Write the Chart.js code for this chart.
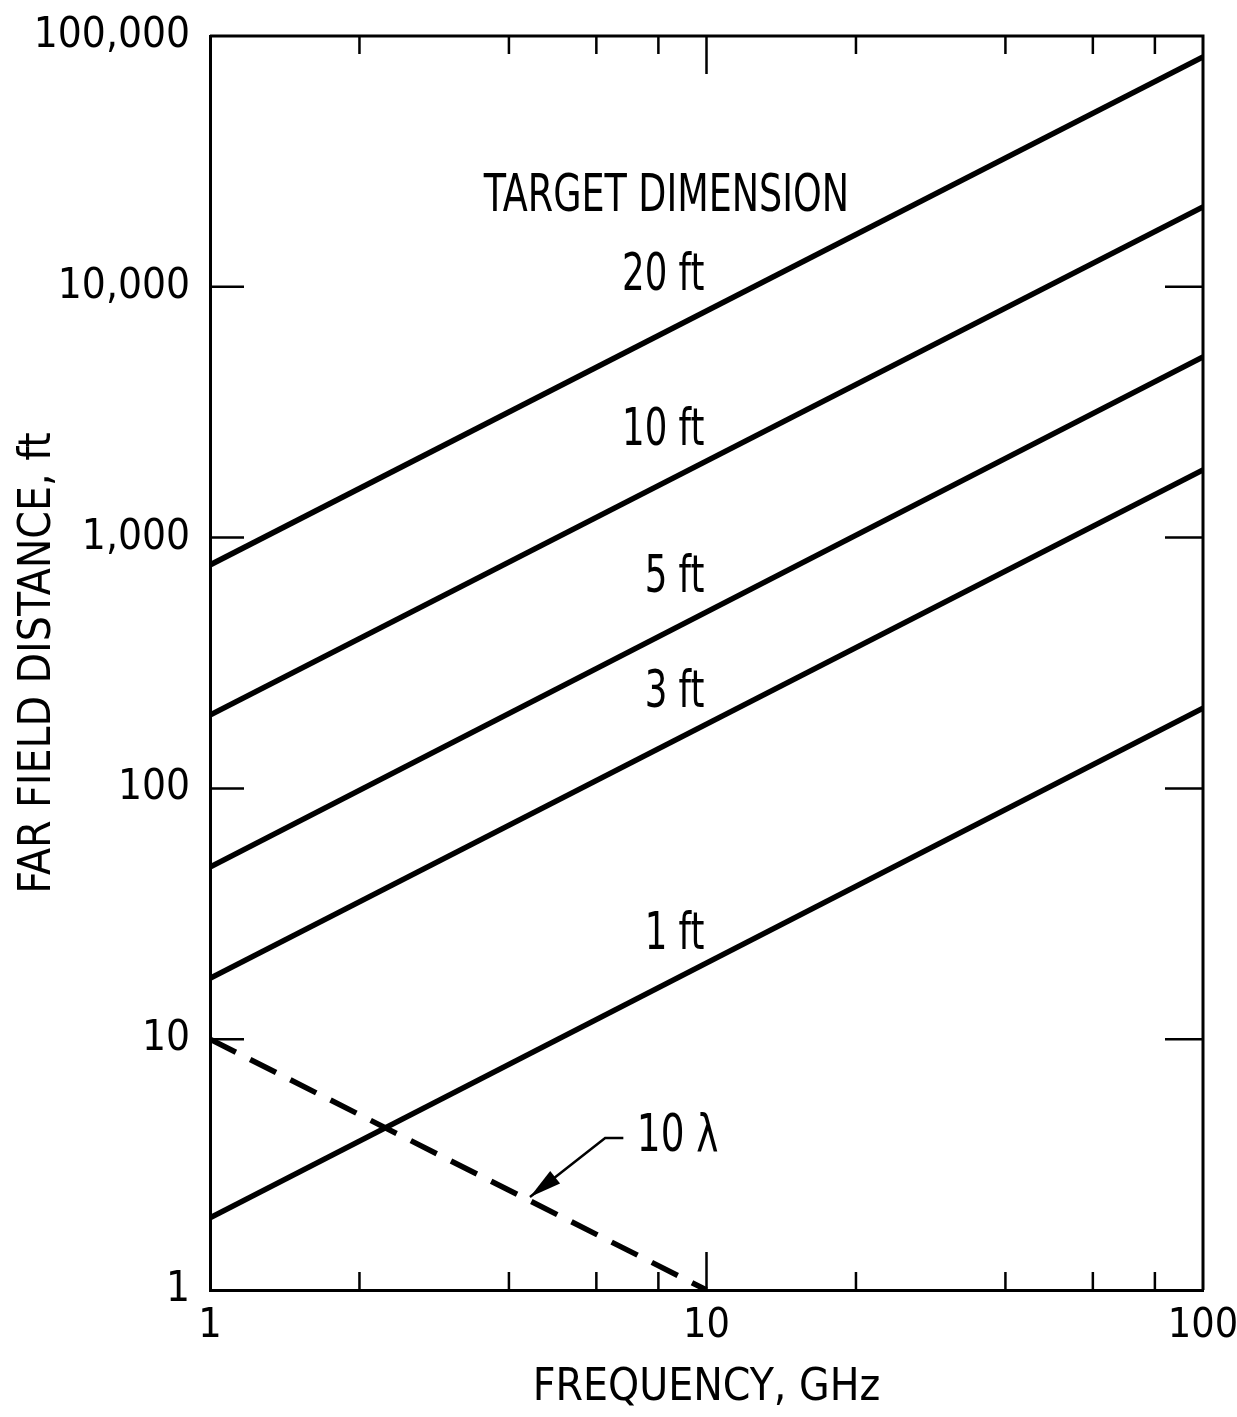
<!DOCTYPE html>
<html>
<head>
<meta charset="utf-8">
<script src="https://cdn.jsdelivr.net/npm/chart.js@4.4.1/dist/chart.umd.min.js"></script>
<style>
  html, body { margin: 0; padding: 0; background: #fff; }
  #wrap { width: 1237px; height: 1417px; position: relative; }
</style>
</head>
<body>
<div id="wrap"><canvas id="farField"></canvas></div>
<script>
// frequency end points, GHz
const freqs = [1, 100];
// far field distance (ft) read at 1 GHz and 100 GHz for each target size
const dim20ft = [778, 82500];
const dim10ft = [196, 20800];
const dim5ft = [48.6, 5250];
const dim3ft = [17.5, 1860];
const dim1ft = [1.94, 209];
// 10 lambda line, from 1 GHz to 10 GHz
const lambdaFreqs = [1, 10];
const tenLambda = [10, 1];

const xTickLabels = [1, 10, 100];
const xMinorTicks = [2, 4, 6, 8, 20, 40, 60, 80];
const yTickLabels = [1, 10, 100, 1000, 10000, 100000];

// label text and anchor in data units (GHz, ft)
const curveLabels = [
  { text: 'TARGET DIMENSION', x: 8.3, y: 22800, align: 'center', sx: 0.78 },
  { text: '20 ft', x: 9.9, y: 11000, align: 'right', sx: 0.76 },
  { text: '10 ft', x: 9.9, y: 2640, align: 'right', sx: 0.76 },
  { text: '5 ft', x: 9.9, y: 684, align: 'right', sx: 0.76 },
  { text: '3 ft', x: 9.9, y: 240, align: 'right', sx: 0.76 },
  { text: '1 ft', x: 9.9, y: 26, align: 'right', sx: 0.76 },
  { text: '10 \u03bb', x: 7.24, y: 4.07, align: 'left', sx: 0.8 }
];
// leader from the 10 lambda label to the dashed line
const arrowPath = [[6.8, 4.04], [6.25, 4.04], [4.41, 2.35]];

const FONT = "'Liberation Sans Narrow', 'DejaVu Sans Condensed', 'Liberation Sans', sans-serif";

function toPts(xs, ys) {
  return xs.map((x, i) => ({ x: x, y: ys[i] }));
}

function solid(label, ys) {
  return {
    label: label,
    data: toPts(freqs, ys),
    borderColor: '#000',
    borderWidth: 5.5,
    pointRadius: 0,
    showLine: true,
    fill: false
  };
}

const frameAndLabels = {
  id: 'frameAndLabels',
  afterDatasetsDraw(chart) {
    const ctx = chart.ctx;
    const a = chart.chartArea;
    const xs = chart.scales.x;
    const ys = chart.scales.y;
    ctx.save();
    ctx.strokeStyle = '#000';
    ctx.lineWidth = 3;
    // top and right sides of the frame
    ctx.beginPath();
    ctx.moveTo(a.left, a.top);
    ctx.lineTo(a.right, a.top);
    ctx.lineTo(a.right, a.bottom);
    ctx.stroke();

    // inward tick marks on top and bottom
    ctx.lineWidth = 2.5;
    const xt = xMinorTicks.map(v => [v, 18]).concat([[10, 38]]);
    xt.forEach(([v, len]) => {
      const px = xs.getPixelForValue(v);
      ctx.beginPath();
      ctx.moveTo(px, a.bottom);
      ctx.lineTo(px, a.bottom - len);
      ctx.moveTo(px, a.top);
      ctx.lineTo(px, a.top + len);
      ctx.stroke();
    });
    // decade ticks on left and right
    yTickLabels.slice(1, -1).forEach(v => {
      const py = ys.getPixelForValue(v);
      ctx.beginPath();
      ctx.moveTo(a.left, py);
      ctx.lineTo(a.left + 34, py);
      ctx.moveTo(a.right, py);
      ctx.lineTo(a.right - 38, py);
      ctx.stroke();
    });

    // curve labels
    ctx.fillStyle = '#000';
    ctx.textBaseline = 'middle';
    ctx.font = '52px ' + FONT;
    curveLabels.forEach(l => {
      const px = xs.getPixelForValue(l.x);
      const py = ys.getPixelForValue(l.y);
      ctx.save();
      ctx.translate(px, py);
      ctx.scale(l.sx, 1);
      ctx.textAlign = l.align;
      ctx.fillText(l.text, 0, 0);
      ctx.restore();
    });

    // arrow to the dashed line
    const pts = arrowPath.map(p => [xs.getPixelForValue(p[0]), ys.getPixelForValue(p[1])]);
    ctx.lineWidth = 2.5;
    ctx.beginPath();
    ctx.moveTo(pts[0][0], pts[0][1]);
    pts.slice(1).forEach(p => ctx.lineTo(p[0], p[1]));
    ctx.stroke();
    const tip = pts[pts.length - 1];
    const prev = pts[pts.length - 2];
    const ang = Math.atan2(tip[1] - prev[1], tip[0] - prev[0]);
    const hl = 32, hw = 8;
    ctx.beginPath();
    ctx.moveTo(tip[0], tip[1]);
    ctx.lineTo(tip[0] - hl * Math.cos(ang) + hw * Math.sin(ang), tip[1] - hl * Math.sin(ang) - hw * Math.cos(ang));
    ctx.lineTo(tip[0] - hl * Math.cos(ang) - hw * Math.sin(ang), tip[1] - hl * Math.sin(ang) + hw * Math.cos(ang));
    ctx.closePath();
    ctx.fill();
    ctx.restore();
  }
};

const canvas = document.getElementById('farField');
canvas.width = 1237;
canvas.height = 1417;

new Chart(canvas, {
  type: 'scatter',
  data: {
    datasets: [
      solid('20 ft', dim20ft),
      solid('10 ft', dim10ft),
      solid('5 ft', dim5ft),
      solid('3 ft', dim3ft),
      solid('1 ft', dim1ft),
      {
        label: '10 \u03bb',
        data: toPts(lambdaFreqs, tenLambda),
        borderColor: '#000',
        borderWidth: 5.5,
        borderDash: [29, 16],
        pointRadius: 0,
        showLine: true,
        fill: false
      }
    ]
  },
  options: {
    responsive: false,
    animation: false,
    devicePixelRatio: 1,
    layout: { padding: { top: 36, right: 34, left: 0, bottom: 0 } },
    plugins: {
      legend: { display: false },
      tooltip: { enabled: false }
    },
    scales: {
      x: {
        type: 'logarithmic',
        min: 1,
        max: 100,
        afterBuildTicks: s => { s.ticks = xTickLabels.map(v => ({ value: v })); },
        afterFit: s => {
          s.height = 127;
          s.paddingLeft = 0;
          s.paddingRight = 0;
        },
        grid: { display: false, drawTicks: false },
        border: { display: true, color: '#000', width: 3 },
        ticks: {
          color: '#000',
          padding: 12,
          maxRotation: 0,
          autoSkip: false,
          font: { family: FONT, size: 41 },
          callback: v => String(v)
        },
        title: {
          display: true,
          text: 'FREQUENCY, GHz',
          color: '#000',
          padding: { top: 0, bottom: 2 },
          font: { family: FONT, size: 44 }
        }
      },
      y: {
        type: 'logarithmic',
        min: 1,
        max: 100000,
        afterBuildTicks: s => { s.ticks = yTickLabels.map(v => ({ value: v })); },
        afterFit: s => {
          s.width = 210;
          s.paddingTop = 0;
          s.paddingBottom = 0;
        },
        grid: { display: false, drawTicks: false },
        border: { display: true, color: '#000', width: 3 },
        ticks: {
          color: '#000',
          padding: 20,
          autoSkip: false,
          font: { family: FONT, size: 42 },
          callback: v => Number(v).toLocaleString('en-US')
        },
        title: {
          display: true,
          text: 'FAR FIELD DISTANCE, ft',
          color: '#000',
          padding: { top: 12, bottom: 0 },
          font: { family: FONT, size: 44 }
        }
      }
    }
  },
  plugins: [frameAndLabels]
});
</script>
</body>
</html>
